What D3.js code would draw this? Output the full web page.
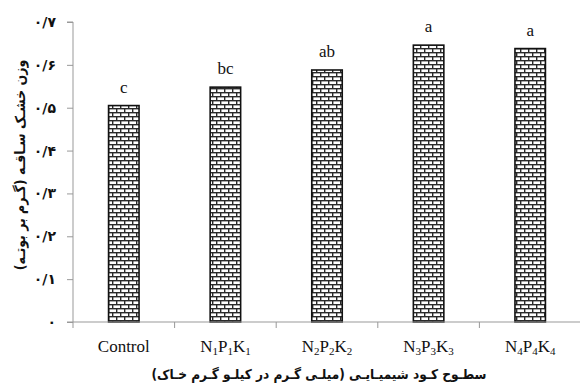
<!DOCTYPE html>
<html>
<head>
<meta charset="utf-8">
<script src="https://cdn.jsdelivr.net/npm/d3@7"></script>
<style>
  html, body { margin: 0; padding: 0; background: #fff; }
  svg { display: block; }
</style>
</head>
<body>
<svg id="chart" width="580" height="385"></svg>
<script>
// Fertilizer levels, shoot dry weight (g per plant) and significance letters
const categories = ["Control", "N1P1K1", "N2P2K2", "N3P3K3", "N4P4K4"];
const values = [0.505, 0.548, 0.588, 0.646, 0.638];
const letters = ["c", "bc", "ab", "a", "a"];
const yTicks = [0, 0.1, 0.2, 0.3, 0.4, 0.5, 0.6, 0.7];
const yTickLabels = ["۰", "۰/۱", "۰/۲", "۰/۳", "۰/۴", "۰/۵", "۰/۶", "۰/۷"];
const xTitle = "سطـوح کـود شیمیـایـی (میلـی گـرم در کیلـو گـرم خـاک)";
const yTitle = "وزن خشـک سـاقـه (گـرم بر بوتـه)";

const svg = d3.select("#chart");
const margin = { left: 73, right: 0, top: 22, bottom: 63 };
const W = 580, H = 385;

const x = d3.scaleBand()
  .domain(categories)
  .range([margin.left, W + 1])
  .paddingInner(0.7)
  .paddingOuter(0.35);

const y = d3.scaleLinear()
  .domain([0, 0.7])
  .range([H - margin.bottom, margin.top]);

// brick hatch fill
const defs = svg.append("defs");
const pat = defs.append("pattern")
  .attr("id", "brick")
  .attr("patternUnits", "userSpaceOnUse")
  .attr("width", 8)
  .attr("height", 8);
pat.append("rect").attr("width", 8).attr("height", 8).attr("fill", "#fff");
const mortar = "#2a2a2a";
pat.append("rect").attr("x", 0).attr("y", 0).attr("width", 8).attr("height", 1.4).attr("fill", mortar);
pat.append("rect").attr("x", 0).attr("y", 4).attr("width", 8).attr("height", 1.4).attr("fill", mortar);
pat.append("rect").attr("x", 0).attr("y", 0).attr("width", 1.4).attr("height", 4).attr("fill", mortar);
pat.append("rect").attr("x", 4).attr("y", 4).attr("width", 1.4).attr("height", 4).attr("fill", mortar);

// bars
svg.append("g").selectAll("rect")
  .data(categories)
  .join("rect")
  .attr("x", d => x(d))
  .attr("y", (d, i) => y(values[i]))
  .attr("width", x.bandwidth())
  .attr("height", (d, i) => y(0) - y(values[i]))
  .attr("fill", "url(#brick)")
  .attr("stroke", "#111")
  .attr("stroke-width", 1.6);

// significance letters
svg.append("g").selectAll("text")
  .data(categories)
  .join("text")
  .attr("x", d => x(d) + x.bandwidth() / 2)
  .attr("y", (d, i) => y(values[i]) - 13)
  .attr("text-anchor", "middle")
  .attr("font-family", "'Liberation Serif', 'Times New Roman', serif")
  .attr("font-size", 17)
  .attr("fill", "#111")
  .text((d, i) => letters[i]);

// y axis
const yAxis = d3.axisLeft(y)
  .tickValues(yTicks)
  .tickSize(6)
  .tickFormat((d, i) => yTickLabels[i]);
const gy = svg.append("g")
  .attr("transform", `translate(${margin.left},0)`)
  .call(yAxis);
gy.select(".domain").attr("stroke", "#999").attr("d", `M-6,${y(0.7)}H0V${y(0)}`);
gy.selectAll(".tick line").attr("stroke", "#999");
gy.selectAll(".tick text")
  .attr("x", -17)
  .attr("font-family", "'DejaVu Sans', sans-serif")
  .attr("font-weight", "bold")
  .attr("font-size", 14)
  .attr("fill", "#111");

// x axis: category boundaries marked below the line
const gx = svg.append("g")
  .attr("transform", `translate(0,${y(0)})`);
gx.append("line")
  .attr("x1", margin.left - 6).attr("x2", W)
  .attr("stroke", "#999").attr("stroke-width", 1);
const gap = (x.step() - x.bandwidth()) / 2;
const bounds = categories.map(d => x(d) - gap)
  .concat([x(categories[categories.length - 1]) + x.bandwidth() + gap]);
gx.selectAll(".bt")
  .data(bounds)
  .join("line")
  .attr("class", "bt")
  .attr("x1", d => d).attr("x2", d => d)
  .attr("y1", 0).attr("y2", 6)
  .attr("stroke", "#999");

// category labels with subscripts
const xl = gx.selectAll(".xl")
  .data(categories)
  .join("text")
  .attr("class", "xl")
  .attr("x", d => x(d) + x.bandwidth() / 2)
  .attr("y", 30)
  .attr("text-anchor", "middle")
  .attr("font-family", "'Liberation Serif', 'Times New Roman', serif")
  .attr("font-size", 17)
  .attr("fill", "#111");
xl.each(function(d) {
  const t = d3.select(this);
  const m = d.match(/^N(\d)P(\d)K(\d)$/);
  if (!m) { t.text(d); return; }
  ["N", m[1], "P", m[2], "K", m[3]].forEach((s, k) => {
    const sp = t.append("tspan").text(s);
    if (k % 2 === 1) sp.attr("font-size", 11).attr("dy", 3);
    else if (k > 0) sp.attr("dy", -3);
  });
});

// axis titles, each centred on its bounding box
function centredTitle(txt, cx, cy, size, rotate) {
  const g = svg.append("g");
  const t = g.append("text")
    .attr("direction", "rtl")
    .attr("font-family", "'DejaVu Sans Condensed', 'DejaVu Sans', sans-serif")
    .attr("font-weight", "bold")
    .attr("font-size", size)
    .attr("fill", "#111")
    .text(txt);
  const b = t.node().getBBox();
  t.attr("x", -b.x - b.width / 2).attr("y", -b.y - b.height / 2);
  g.attr("transform", `translate(${cx},${cy})` + (rotate ? " rotate(-90)" : ""));
}
centredTitle(xTitle, 319, 374, 13.5, false);
centredTitle(yTitle, 20, 165, 14, true);
</script>
</body>
</html>
